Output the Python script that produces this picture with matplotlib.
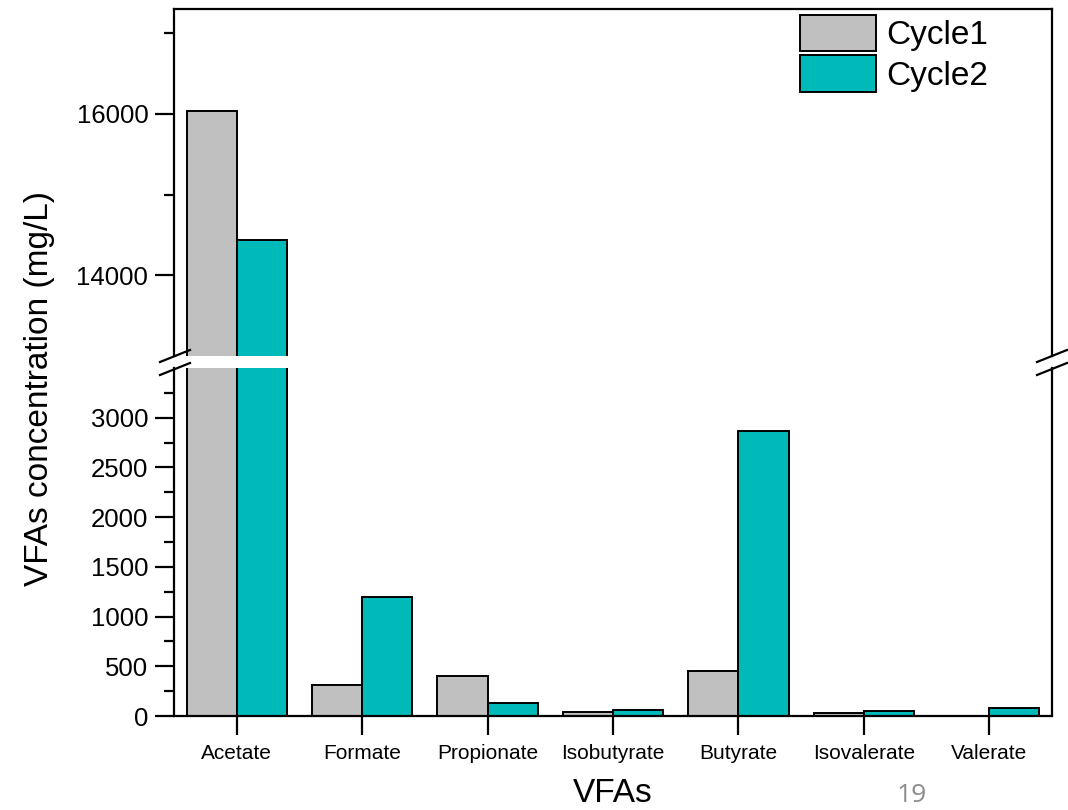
import numpy as np
import matplotlib
matplotlib.use("Agg")
import matplotlib.pyplot as plt
from matplotlib.lines import Line2D
from matplotlib.ticker import FixedLocator

plt.rcParams["font.family"] = ["Liberation Sans", "DejaVu Sans"]

vfas = ["Acetate", "Formate", "Propionate", "Isobutyrate", "Butyrate", "Isovalerate", "Valerate"]
cycle1 = [16030, 310, 400, 40, 450, 30, 0]
cycle2 = [14440, 1200, 135, 60, 2870, 55, 85]

C1 = "#c0c0c0"
C2 = "#00baba"
W = 0.4

fig = plt.figure(figsize=(10.68, 8.10), dpi=100)
L, R = 174 / 1068, 1052 / 1068
ax_hi = fig.add_axes([L, 1 - 356 / 810, R - L, (356 - 9) / 810])
ax_lo = fig.add_axes([L, 1 - 716 / 810, R - L, (716 - 368) / 810])

x = np.arange(len(vfas))
for ax in (ax_hi, ax_lo):
    ax.bar(x - W / 2, cycle1, W, color=C1, edgecolor="k", lw=1.4, label="Cycle1")
    ax.bar(x + W / 2, cycle2, W, color=C2, edgecolor="k", lw=1.4, label="Cycle2")
    ax.set_xlim(-0.5, 6.5)
    for s in ax.spines.values():
        s.set_linewidth(1.6)
    ax.tick_params(axis="y", direction="out", length=14, width=1.6, labelsize=18.5, pad=4.5, right=False)
    ax.tick_params(axis="y", which="minor", direction="out", length=7, width=1.6)

ax_hi.set_ylim(13000, 17300)
ax_hi.yaxis.set_major_locator(FixedLocator([14000, 16000]))
ax_hi.yaxis.set_minor_locator(FixedLocator([15000, 17000]))
ax_hi.spines["bottom"].set_visible(False)
ax_hi.tick_params(axis="x", bottom=False, labelbottom=False)

ax_lo.set_ylim(0, 3500)
ax_lo.yaxis.set_major_locator(FixedLocator(np.arange(0, 3001, 500)))
ax_lo.yaxis.set_minor_locator(FixedLocator(np.arange(250, 3251, 500)))
ax_lo.spines["top"].set_visible(False)
ax_lo.set_xticks(x)
ax_lo.set_xticklabels(vfas)
ax_lo.tick_params(axis="x", direction="out", length=14, width=1.6, labelsize=15, pad=6)
ax_lo.set_xlabel("VFAs", fontsize=24, labelpad=11)

fig.text(40 / 1068, 1 - 388 / 810, "VFAs concentration (mg/L)", rotation=90,
         fontsize=24, ha="center", va="center")

# break marks on both vertical spines
for x0 in (160, 1037):
    for y0 in (362, 375):
        fig.add_artist(Line2D([x0 / 1068, (x0 + 30) / 1068],
                              [1 - y0 / 810, 1 - (y0 - 12) / 810],
                              color="k", lw=1.6, transform=fig.transFigure))

ax_hi.legend(loc="upper left", bbox_to_anchor=(800 / 1068, 1 - 15 / 810),
             bbox_transform=fig.transFigure, frameon=False, fontsize=24,
             handlelength=2.28, handleheight=1.3, labelspacing=0.12, handletextpad=0.3,
             borderpad=0, borderaxespad=0)

fig.text(912 / 1068, 1 - 795 / 810, "19", color="#8c8c8c", fontsize=19,
         ha="center", va="center", family=["Open Sans", "DejaVu Sans"])

fig.savefig("out.png", dpi=100)
